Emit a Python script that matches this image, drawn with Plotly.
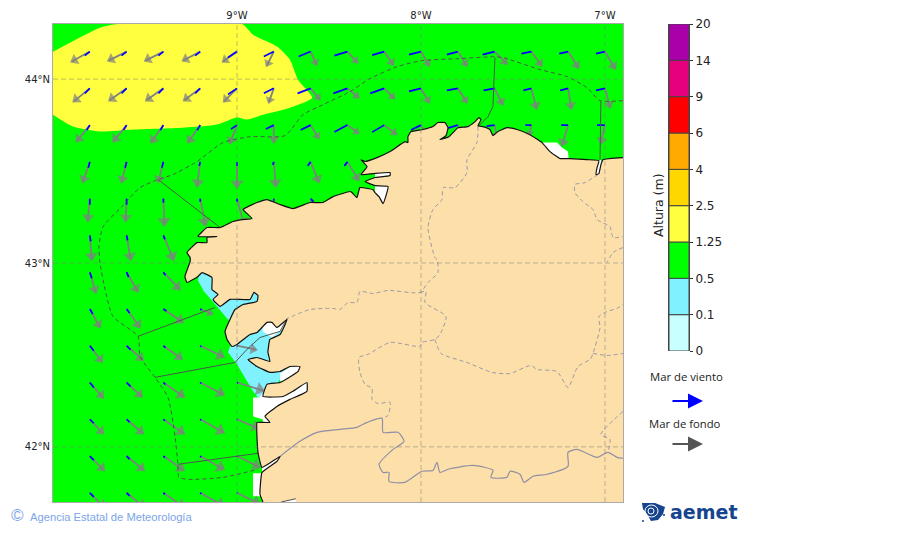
import numpy as np
import plotly.graph_objects as go

W, H = 900, 533
lon_min, lon_max = -10.0, -6.902
lat_min, lat_max = 41.70, 44.30

grid_lons = [-9, -8, -7]
grid_lats = [42, 43, 44]
lon_labels = ['9°W', '8°W', '7°W']
lat_labels = ['42°N', '43°N', '44°N']

# wave grid, every 0.2 degrees
sea_lons = [-9.8, -9.6, -9.4, -9.2, -9.0, -8.8, -8.6, -8.4, -8.2, -8.0, -7.8, -7.6, -7.4, -7.2, -7.0]
sea_lats = [44.15, 43.95, 43.75, 43.55, 43.35, 43.15, 42.95, 42.75, 42.55, 42.35, 42.15, 41.95, 41.75]

# components per row, eastward / southward, rows stop where the land starts
swell_u = [
    [-18, -18, -18, -17, -14, -7, 6, 10, 9, 8, 9, 12, 10, 10, 10],
    [-16, -17, -17, -16, -13, -5, 9, 11, 10, 8, 9, 8, 5, 3, 5],
    [-13, -13, -12, -12, -7, 0, 8, 11, 12, 8, 8, 2, -2, -6, -4],
    [-7, -5, -5, -3, 0, 2, 8, 11],
    [-2, -1, 1, 5, 7, 3, 6],
    [2, 4, 10],
    [6, 11, 16],
    [10, 13, 19, 12],
    [12, 16, 18, 23, 19],
    [13, 15, 20, 23, 26],
    [13, 16, 20, 23, 21],
    [14, 17, 20, 23, 22],
    [14, 17, 20, 23, 22],
]
swell_s = [
    [10, 9, 9, 9, 10, 14, 13, 11, 13, 14, 14, 12, 14, 16, 17],
    [13, 12, 12, 12, 13, 14, 11, 9, 10, 14, 14, 16, 20, 20, 19],
    [16, 16, 17, 17, 18, 17, 13, 8, 9, 14, 14, 12, 10, 20, 18],
    [20, 20, 20, 24, 25, 24, 20, 18],
    [22, 22, 26, 26, 26, 25, 22],
    [24, 24, 24],
    [20, 19, 17],
    [18, 18, 13, 5],
    [16, 14, 13, 11, 4],
    [15, 14, 14, 12, 8],
    [14, 14, 14, 13, 9],
    [14, 14, 14, 13, 11],
    [14, 14, 14, 13, 11],
]
wind_u = [
    [-5, -5, -5, -5, -9, -10, -12, -13, -12, -12, -11, -12, -10, -9, -9],
    [-5, -5, -5, -5, -9, -10, -13, -14, -14, -12, -11, -11, -8, -8, -9],
    [-3, -3, -3, -3, -6, -8, -10, -13, -12, -10, -10, -8, -6, -7, -8],
    [-1.5, -1.5, -1.5, -1, 0, -1, -3, -3],
    [0, 0, 0, 0, 0, 0, 3],
    [1, 1, 1.5],
    [2, 2, 2],
    [3, 3, 3, 1.5],
    [4, 4, 2, 1, 0.5],
    [4, 4, 2, 1, 1],
    [4, 3, 1.5, 1, 0.5],
    [4, 3, 1.5, 1, 0.5],
    [4, 3, 1.5, 1, 0.5],
]
wind_s = [
    [4, 4, 4, 4, 6, 5, 5, 4, 3.5, 3, 3, 3, 2, 2, 2],
    [5, 5, 5, 5, 6, 5, 5, 5, 5, 3, 2, 2, 2, 2, 2],
    [5, 5, 5, 5, 4, 4, 5, 7, 7, 5, 3, 1, 0, 0, 0],
    [6, 6, 6, 4, 4, 3, 4, 4],
    [6, 6, 4, 3, 3, 2, 3],
    [6, 5, 4],
    [6, 5, 3],
    [5, 4, 2, 1],
    [5, 4, 2, 1, 0.5],
    [5, 4, 2, 1, 0.5],
    [4, 3, 1.5, 1, 0.5],
    [4, 3, 1.5, 1, 0.5],
    [4, 3, 1.5, 1, 0.5],
]

# coast, east to west and then down the west side
coast_lon = [-6.902, -7.011, -7.022, -7.033, -7.049, -7.043, -7.033, -7.098, -7.190, -7.244, -7.299, -7.342,
             -7.408, -7.478, -7.533, -7.582, -7.609, -7.625, -7.663, -7.690, -7.674, -7.685, -7.706, -7.745,
             -7.799, -7.826, -7.848, -7.897, -7.864, -7.853, -7.870, -7.908, -7.935, -7.989, -8.054, -8.071,
             -8.071, -8.087, -8.168, -8.239, -8.304, -8.326, -8.293, -8.326, -8.261, -8.168, -8.168, -8.250,
             -8.304, -8.250, -8.179, -8.206, -8.228, -8.250, -8.261, -8.332, -8.348, -8.375, -8.386, -8.478,
             -8.533, -8.603, -8.696, -8.766, -8.837, -8.891, -8.967, -8.918, -8.973, -9.022, -9.092, -9.163,
             -9.212, -9.109, -9.163, -9.163, -9.217, -9.272, -9.255, -9.255, -9.283, -9.272, -9.239, -9.212,
             -9.190, -9.136, -9.136, -9.103, -9.130, -9.092, -9.038, -8.929, -8.908, -8.886, -8.891, -8.967,
             -9.011, -9.038, -9.065, -9.054, -9.027, -9.000, -8.929, -8.891, -8.837, -8.810, -8.783, -8.728,
             -8.766, -8.821, -8.832, -8.821, -8.891, -8.940, -8.891, -8.821, -8.766, -8.712, -8.658, -8.668,
             -8.766, -8.837, -8.859, -8.750, -8.696, -8.620, -8.620, -8.712, -8.783, -8.848, -8.821, -8.864,
             -8.891, -8.886, -8.864, -8.766, -8.783, -8.864, -8.875, -8.859]
coast_lat = [43.573, 43.562, 43.535, 43.486, 43.481, 43.519, 43.557, 43.562, 43.568, 43.568, 43.606, 43.655,
             43.698, 43.726, 43.736, 43.715, 43.693, 43.726, 43.742, 43.747, 43.780, 43.791, 43.769, 43.742,
             43.736, 43.709, 43.687, 43.671, 43.693, 43.736, 43.764, 43.764, 43.742, 43.726, 43.715, 43.687,
             43.655, 43.660, 43.606, 43.573, 43.552, 43.562, 43.524, 43.481, 43.486, 43.492, 43.476, 43.465,
             43.443, 43.421, 43.416, 43.323, 43.361, 43.383, 43.399, 43.410, 43.356, 43.383, 43.389, 43.361,
             43.329, 43.329, 43.296, 43.318, 43.345, 43.329, 43.291, 43.242, 43.236, 43.226, 43.193, 43.193,
             43.144, 43.144, 43.139, 43.111, 43.111, 43.057, 43.030, 43.008, 42.927, 42.894, 42.910, 42.927,
             42.948, 42.921, 42.856, 42.829, 42.802, 42.764, 42.802, 42.802, 42.840, 42.823, 42.791, 42.774,
             42.747, 42.693, 42.628, 42.584, 42.546, 42.557, 42.611, 42.622, 42.677, 42.677, 42.649, 42.693,
             42.611, 42.584, 42.514, 42.465, 42.486, 42.475, 42.437, 42.405, 42.410, 42.437, 42.437, 42.410,
             42.350, 42.340, 42.274, 42.274, 42.302, 42.350, 42.302, 42.258, 42.220, 42.166, 42.133, 42.133,
             42.133, 41.970, 41.888, 41.948, 41.921, 41.861, 41.742, 41.700]

yellow_lon = [-10.0, -9.908, -9.745, -9.647, -8.973, -8.913, -8.783, -8.712, -8.668, -8.592, -8.712, -8.859,
              -8.946, -9.000, -9.109, -9.293, -9.565, -9.745, -9.891, -10.0]
yellow_lat = [44.149, 44.198, 44.280, 44.30, 44.30, 44.242, 44.177, 44.106, 43.997, 43.899, 43.845, 43.807,
              43.780, 43.791, 43.753, 43.736, 43.726, 43.715, 43.742, 43.807]

cyan_north_lon = [-9.212, -9.179, -9.136, -9.092, -9.049, -8.984, -8.848, -9.065, -9.201]
cyan_north_lat = [42.905, 42.845, 42.796, 42.742, 42.693, 42.682, 42.829, 42.992, 42.975]
cyan_south_lon = [-9.038, -9.049, -9.000, -8.946, -8.913, -8.886, -8.832, -8.712, -8.685, -8.929]
cyan_south_lat = [42.546, 42.514, 42.449, 42.356, 42.302, 42.269, 42.269, 42.449, 42.693, 42.639]

white_areas = [
    ([-7.337, -7.261, -7.234, -7.201, -7.196, -7.326, -7.353], [43.655, 43.655, 43.628, 43.606, 43.552, 43.552, 43.628]),
    ([-7.02, -7.02, -7.06, -7.06], [43.56, 43.47, 43.47, 43.56]),
    ([-8.25, -8.16, -8.16, -8.25], [43.50, 43.50, 43.46, 43.46]),
    ([-8.25, -8.16, -8.16, -8.25], [43.43, 43.43, 43.30, 43.30]),
    ([-8.859, -8.810, -8.755, -8.701, -8.810, -8.864], [42.628, 42.595, 42.639, 42.704, 42.704, 42.682]),
    ([-8.766, -8.766, -8.701, -8.630, -8.630], [42.356, 42.399, 42.442, 42.465, 42.378]),
    ([-8.913, -8.913, -8.859, -8.859, -8.793, -8.592, -8.592, -8.848, -8.880], [42.269, 42.166, 42.149, 42.117, 42.117, 42.302, 42.367, 42.302, 42.269]),
    ([-8.864, -8.766, -8.750, -8.842, -8.842, -8.913, -8.913, -8.864], [41.888, 41.948, 41.927, 41.845, 41.731, 41.731, 41.856, 41.856]),
]

# small inlet at the bottom edge of the frame
south_inlet_lon = [-8.76, -8.68, -8.68]
south_inlet_lat = [41.70, 41.718, 41.70]

# offshore limit (dashed)
limit_lon = [-6.902, -7.027, -7.098, -7.206, -7.353, -7.554, -7.598, -7.804, -7.995, -8.130, -8.277, -8.386, -8.533,
             -8.641, -8.739, -8.929, -9.076, -9.217, -9.348, -9.429, -9.527, -9.625, -9.728, -9.750, -9.745, -9.717,
             -9.674, -9.538, -9.527, -9.446, -9.375, -9.337, -9.321, -9.315, -9.255, -9.076, -8.886]
limit_lat = [43.883, 43.883, 43.954, 44.014, 44.052, 44.117, 44.122, 44.111, 44.101, 44.068, 44.003, 43.932, 43.861,
             43.807, 43.693, 43.687, 43.655, 43.552, 43.481, 43.454, 43.410, 43.307, 43.198, 43.090, 43.003, 42.856,
             42.709, 42.601, 42.492, 42.378, 42.269, 42.057, 41.905, 41.834, 41.823, 41.834, 41.878]

# zone separators out at sea
zone_lines = [
    ([-9.429, -9.092], [43.454, 43.193]),
    ([-9.538, -9.120], [42.601, 42.758]),
    ([-9.446, -9.011, -8.946, -8.875, -8.766, -8.728], [42.378, 42.459, 42.530, 42.595, 42.628, 42.698]),
    ([-9.321, -8.886], [41.905, 41.965]),
    ([-7.022, -7.027], [43.883, 43.562]),
    ([-7.598, -7.609, -7.636, -7.690], [44.117, 43.851, 43.796, 43.742]),
]

province_lines = [
    ([-7.690, -7.696, -7.750, -7.750, -7.815, -7.880, -7.886, -7.935, -7.962, -7.924, -7.913, -7.908, -7.962, -8.005,
      -8.179, -8.261, -8.332, -8.348, -8.397, -8.440, -8.478, -8.603, -8.728],
     [43.742, 43.655, 43.562, 43.492, 43.410, 43.410, 43.345, 43.291, 43.193, 43.030, 43.019, 42.948, 42.894, 42.840,
      42.851, 42.834, 42.845, 42.785, 42.785, 42.747, 42.753, 42.747, 42.698]),
    ([-8.005, -7.973, -7.978, -7.864, -7.897, -7.924, -7.995, -8.005, -8.168, -8.288, -8.337, -8.332, -8.304, -8.266,
      -8.266, -8.234, -8.168, -8.179, -8.212],
     [42.840, 42.845, 42.785, 42.709, 42.611, 42.584, 42.568, 42.546, 42.568, 42.503, 42.486, 42.405, 42.340, 42.318,
      42.258, 42.236, 42.242, 42.171, 42.155]),
    ([-7.924, -7.891, -7.750, -7.614, -7.516, -7.402, -7.370, -7.261, -7.201, -7.147, -7.081, -7.065, -7.027, -7.033,
      -6.989, -6.935, -6.902],
     [42.584, 42.508, 42.459, 42.405, 42.399, 42.443, 42.421, 42.410, 42.323, 42.437, 42.476, 42.508, 42.649, 42.709,
      42.736, 42.753, 42.774]),
    ([-7.065, -6.989, -6.902], [42.508, 42.497, 42.508]),
    ([-7.038, -7.109, -7.163, -7.163, -7.120, -7.065, -7.043, -6.973, -6.956, -6.902],
     [43.481, 43.437, 43.427, 43.383, 43.334, 43.291, 43.236, 43.198, 43.139, 43.144]),
    ([-6.902, -6.956, -6.989], [43.084, 43.057, 43.003]),
    ([-6.902, -7.022, -6.973, -6.984], [42.193, 42.068, 42.041, 41.970]),
]

border_lon = [-8.766, -8.658, -8.565, -8.440, -8.348, -8.293, -8.212, -8.206, -8.125, -8.092, -8.152, -8.228, -8.206,
              -8.174, -8.174, -8.087, -7.995, -7.935, -7.913, -7.897, -7.853, -7.717, -7.609, -7.620, -7.533, -7.516,
              -7.462, -7.440, -7.391, -7.315, -7.201, -7.201, -7.152, -7.043, -6.984, -6.935, -6.902]
border_lat = [41.948, 42.030, 42.079, 42.095, 42.106, 42.133, 42.155, 42.079, 42.079, 42.030, 41.986, 41.905, 41.861,
              41.861, 41.812, 41.807, 41.867, 41.872, 41.916, 41.861, 41.878, 41.899, 41.872, 41.834, 41.834, 41.867,
              41.851, 41.807, 41.840, 41.851, 41.894, 41.970, 41.986, 41.943, 41.970, 41.943, 41.938]

height_levels = ['0', '0.1', '0.5', '1.25', '2.5', '4', '6', '9', '14', '20']
height_colors = ['#c8ffff', '#80f2ff', '#00ff00', '#ffff40', '#ffd700', '#ffaa00', '#ff0000', '#e6007e', '#aa00aa']

LAND = '#fddfa9'
ARROW_SCALE = 1 / 184  # degrees per unit of the vectors above


def px(x):
    return x / W


def py(y):
    return 1 - y / H


def poly(x, y, color, shape='linear', smoothing=0.6):
    return go.Scatter(x=x, y=y, mode='lines', fill='toself', fillcolor=color,
                      line=dict(width=0, shape=shape, smoothing=smoothing),
                      hoverinfo='skip', showlegend=False)


def path(x, y, color, width, dash='solid', shape='linear', smoothing=0.6):
    return go.Scatter(x=x, y=y, mode='lines',
                      line=dict(color=color, width=width, dash=dash, shape=shape, smoothing=smoothing),
                      hoverinfo='skip', showlegend=False)


def arrows(u_rows, s_rows, color, width, heads):
    x, y, hx, hy, ang, size = [], [], [], [], [], []
    for lat, us, ss in zip(sea_lats, u_rows, s_rows):
        for lon, u, s in zip(sea_lons, us, ss):
            end_x = lon + u * ARROW_SCALE
            end_y = lat - s * ARROW_SCALE
            x += [lon, end_x, None]
            y += [lat, end_y, None]
            length = np.hypot(u, s)
            side = 5 + 0.25 * length
            hx.append(lon + u * ARROW_SCALE * (1 - 0.3 * side / length))
            hy.append(lat - s * ARROW_SCALE * (1 - 0.3 * side / length))
            ang.append(np.degrees(np.arctan2(u, -s)))
            size.append(side)
    traces = [path(x, y, color, width)]
    if heads:
        traces.append(go.Scatter(x=hx, y=hy, mode='markers', hoverinfo='skip', showlegend=False,
                                 marker=dict(symbol='triangle-up', size=size, angle=ang, color=color,
                                             line=dict(width=0))))
    return traces


fig = go.Figure()

fig.add_trace(poly(yellow_lon, yellow_lat, '#ffff40', 'spline'))
fig.add_trace(poly(cyan_north_lon, cyan_north_lat, height_colors[1]))
fig.add_trace(poly(cyan_south_lon, cyan_south_lat, height_colors[1]))
for wx, wy in white_areas:
    fig.add_trace(poly(wx, wy, 'white'))

for t in arrows(swell_u, swell_s, '#808080', 1.8, True):
    fig.add_trace(t)
for t in arrows(wind_u, wind_s, '#0000ff', 1.7, False):
    fig.add_trace(t)

# land goes over the arrows, the extra corners are outside the frame
fig.add_trace(poly(coast_lon + [coast_lon[-1], lon_max + 0.3, lon_max + 0.3],
                   coast_lat + [lat_min - 0.3, lat_min - 0.3, coast_lat[0]], LAND, 'spline', 0.35))
fig.add_trace(poly(south_inlet_lon, south_inlet_lat, 'white'))

for lx, ly in province_lines:
    fig.add_trace(path(lx, ly, '#9a9aa8', 1, '4px,3px', 'spline'))
fig.add_trace(path(border_lon, border_lat, '#8f8fa6', 1.2, 'solid', 'spline'))
for lx, ly in zone_lines:
    fig.add_trace(path(lx, ly, '#4a5a4a', 1))
fig.add_trace(path(limit_lon, limit_lat, '#4a5a4a', 1, '4px,3px', 'spline'))
fig.add_trace(path(coast_lon, coast_lat, '#111111', 1.2, 'solid', 'spline', 0.35))
fig.add_trace(path(south_inlet_lon[:2], south_inlet_lat[:2], '#555555', 1))

# graticule sits on top of everything
for lon in grid_lons:
    fig.add_trace(path([lon, lon], [lat_min, lat_max], 'rgba(125,125,125,0.5)', 1, '5px,3px'))
for lat in grid_lats:
    fig.add_trace(path([lon_min, lon_max], [lat, lat], 'rgba(125,125,125,0.5)', 1, '5px,3px'))

# colour scale as stacked bars on its own axes
fig.add_trace(go.Bar(x=[0] * len(height_colors), y=[1] * len(height_colors), base=list(range(len(height_colors))),
                     width=1, marker=dict(color=height_colors, line=dict(color='#444444', width=1)),
                     hoverinfo='skip', showlegend=False, xaxis='x2', yaxis='y2'))


# logo mark, a blue patch with white swirl strokes
def logo_path(points):
    cmds = ['M' if i == 0 else 'L' for i in range(len(points))]
    return ' '.join(f'{c}{px(a):.4f},{py(b):.4f}' for c, (a, b) in zip(cmds, points)) + ' Z'


logo_shapes = [
    dict(type='path', xref='paper', yref='paper', fillcolor='#16448f', line=dict(width=0),
         path=logo_path([(642, 503), (655, 503), (665, 507), (663, 514), (658, 520), (651, 521), (647, 514), (643, 509)])),
    dict(type='circle', xref='paper', yref='paper', x0=px(645), x1=px(658), y0=py(517), y1=py(505),
         line=dict(color='white', width=1)),
    dict(type='circle', xref='paper', yref='paper', x0=px(648), x1=px(654), y0=py(514), y1=py(508),
         line=dict(color='white', width=1)),
    dict(type='circle', xref='paper', yref='paper', x0=px(663), x1=px(665), y0=py(516), y1=py(514),
         fillcolor='#16448f', line=dict(width=0)),
    dict(type='circle', xref='paper', yref='paper', x0=px(642), x1=px(644), y0=py(522), y1=py(520),
         fillcolor='#16448f', line=dict(width=0)),
]

axis_font = dict(family='DejaVu Sans', size=10, color='#222222')
note_font = dict(family='Open Sans', size=11.3, color='#222222')
credit_color = '#7ba4e8'
fig.update_layout(
    width=W, height=H, autosize=False,
    margin=dict(l=0, r=0, t=0, b=0),
    paper_bgcolor='white', plot_bgcolor='#00ff00',
    barmode='overlay',
    shapes=logo_shapes,
    xaxis=dict(domain=[px(53), px(623)], range=[lon_min, lon_max], side='top', tickvals=grid_lons,
               ticktext=lon_labels, showgrid=False, zeroline=False, showline=True, mirror=True, automargin=False,
               linecolor='#aaaaaa', linewidth=1, ticks='', tickfont=axis_font),
    yaxis=dict(domain=[py(502), py(24)], range=[lat_min, lat_max], tickvals=grid_lats,
               ticktext=lat_labels, showgrid=False, zeroline=False, showline=True, mirror=True, automargin=False,
               linecolor='#aaaaaa', linewidth=1, ticks='', tickfont=axis_font),
    xaxis2=dict(domain=[px(669), px(689)], range=[-0.5, 0.5], anchor='y2', visible=False, automargin=False),
    yaxis2=dict(domain=[py(351), py(24)], range=[0, len(height_colors)], anchor='x2', side='right', automargin=False,
                tickvals=list(range(len(height_levels))), ticktext=height_levels, showgrid=False,
                zeroline=False, showline=True, mirror=True, linecolor='#444444', linewidth=1,
                ticks='outside', ticklen=3, tickcolor='#333333',
                tickfont=dict(family='DejaVu Sans', size=12, color='#222222')),
    annotations=[
        dict(x=px(659), y=py(205), xref='paper', yref='paper', xanchor='center', yanchor='middle', text='Altura (m)',
             textangle=-90, showarrow=False, font=dict(family='DejaVu Sans', size=12.5, color='#222222')),
        dict(x=px(686), y=py(376), xref='paper', yref='paper', xanchor='center', yanchor='middle', text='Mar de viento',
             showarrow=False, font=note_font),
        dict(x=px(685), y=py(423), xref='paper', yref='paper', xanchor='center', yanchor='middle', text='Mar de fondo',
             showarrow=False, font=note_font),
        dict(x=px(703), y=py(401), xref='paper', yref='paper', ax=-32, ay=0, text='', showarrow=True,
             arrowhead=2, arrowsize=1.5, arrowwidth=2, arrowcolor='#0000ff'),
        dict(x=px(703), y=py(444), xref='paper', yref='paper', ax=-32, ay=0, text='', showarrow=True,
             arrowhead=2, arrowsize=1.5, arrowwidth=2, arrowcolor='#555555'),
        dict(x=px(17), y=py(515.5), xref='paper', yref='paper', xanchor='center', yanchor='middle', text='©',
             showarrow=False, font=dict(family='Liberation Sans', size=17, color=credit_color)),
        dict(x=px(28), y=py(516.5), xref='paper', yref='paper', xanchor='left', yanchor='middle',
             text='Agencia Estatal de Meteorología', showarrow=False,
             font=dict(family='Liberation Sans', size=11.2, color=credit_color)),
        dict(x=px(668), y=py(512), xref='paper', yref='paper', xanchor='left', yanchor='middle', text='<b>aemet</b>',
             showarrow=False, font=dict(family='DejaVu Sans', size=19, color='#16448f')),
    ],
)

fig.write_html("out.html", config={'displayModeBar': False}, post_script="document.body.style.margin='0';")
